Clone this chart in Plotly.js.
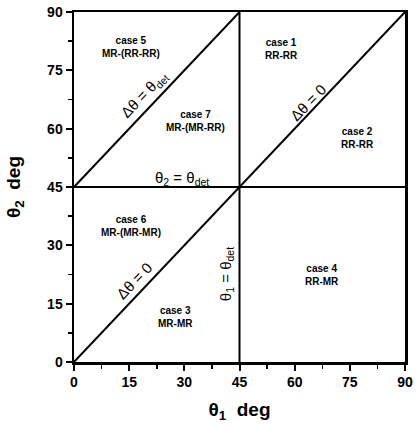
<!DOCTYPE html>
<html><head><meta charset="utf-8">
<script src="https://cdn.plot.ly/plotly-3.0.1.min.js"></script>
<style>html,body{margin:0;padding:0;background:#fff}</style>
</head><body><div id="chart" style="width:416px;height:429px"></div>
<script>
// boundary lines (theta1, theta2 in deg)
const diagX = [0, 90], diagY = [0, 90];          // Δθ = 0
const detLineX = [0, 45], detLineY = [45, 90];   // Δθ = θdet
const vertX = [45, 45], vertY = [0, 90];         // θ1 = θdet
const horizX = [0, 90], horizY = [45, 45];       // θ2 = θdet

const tickVals = [0, 15, 30, 45, 60, 75, 90];
const tickText = ['0', '15', '30', '45', '60', '75', '90'];

// region labels
const caseNames = ['case 5', 'case 7', 'case 1', 'case 2', 'case 6', 'case 3', 'case 4'];
const caseModes = ['MR-(RR-RR)', 'MR-(MR-RR)', 'RR-RR', 'RR-RR', 'MR-(MR-MR)', 'MR-MR', 'RR-MR'];
const caseX = [15.5, 33, 56.5, 77, 15.5, 27.5, 67.5];
const caseY = [81, 62, 80.5, 57.5, 35, 11.5, 22.5];

const lineLabels = ['Δθ = θ<sub>det</sub>', 'Δθ = 0', 'Δθ = 0', 'θ<sub>2</sub> = θ<sub>det</sub>', 'θ<sub>1</sub> = θ<sub>det</sub>'];
const lineLabelX = [20.5, 65, 18, 29.5, 41.5];
const lineLabelY = [67.5, 65.5, 19.5, 47.3, 22.5];
const lineLabelAngle = [-46, -46, -46, 0, -90];
const lineLabelDX = [-5, -5, -6, 0, 0];
const lineLabelDY = [5, 5, 6, 0, 0];

const lineStyle = {color: '#000', width: 2};
const traces = [
  {x: diagX, y: diagY, mode: 'lines', line: lineStyle, hoverinfo: 'skip'},
  {x: detLineX, y: detLineY, mode: 'lines', line: lineStyle, hoverinfo: 'skip'},
  {x: vertX, y: vertY, mode: 'lines', line: lineStyle, hoverinfo: 'skip'},
  {x: horizX, y: horizY, mode: 'lines', line: lineStyle, hoverinfo: 'skip'}
];

const font = 'Liberation Sans, Arial, sans-serif';
const annotations = [];
caseNames.forEach((n, i) => {
  annotations.push({x: caseX[i], y: caseY[i], xref: 'x', yref: 'y', showarrow: false,
    text: '<b>' + n + '<br>' + caseModes[i] + '</b>', align: 'center',
    font: {family: font, size: 10, color: '#000'}});
});
lineLabels.forEach((t, i) => {
  annotations.push({x: lineLabelX[i], y: lineLabelY[i], xref: 'x', yref: 'y', showarrow: false,
    text: t, textangle: lineLabelAngle[i], xshift: lineLabelDX[i], yshift: lineLabelDY[i],
    font: {family: font, size: 15, color: '#000'}});
});

const axisCommon = {
  range: [0, 90], tickmode: 'array', tickvals: tickVals,
  ticktext: tickText.map(t => '<b>' + t + '</b>'),
  ticks: 'outside', ticklen: 6, tickwidth: 2, tickcolor: '#000',
  minor: {dtick: 7.5, tick0: 0, ticks: 'outside', ticklen: 4, tickwidth: 1.5, tickcolor: '#000'},
  showline: true, linecolor: '#000', linewidth: 2.5, mirror: true,
  showgrid: false, zeroline: false,
  tickfont: {family: font, size: 14, color: '#000'}
};

const layout = {
  width: 416, height: 429,
  margin: {l: 74, r: 11, t: 12, b: 67},
  paper_bgcolor: '#fff', plot_bgcolor: '#fff',
  showlegend: false,
  xaxis: Object.assign({}, axisCommon, {
    title: {text: '<b>θ<sub>1</sub>  deg</b>', font: {family: font, size: 19, color: '#000'}, standoff: 14}
  }),
  yaxis: Object.assign({}, axisCommon, {
    title: {text: '<b>θ<sub>2</sub>  deg</b>', font: {family: font, size: 19, color: '#000'}, standoff: 22}
  }),
  annotations: annotations
};

Plotly.newPlot('chart', traces, layout, {displayModeBar: false, staticPlot: true});
</script>
</body></html>
